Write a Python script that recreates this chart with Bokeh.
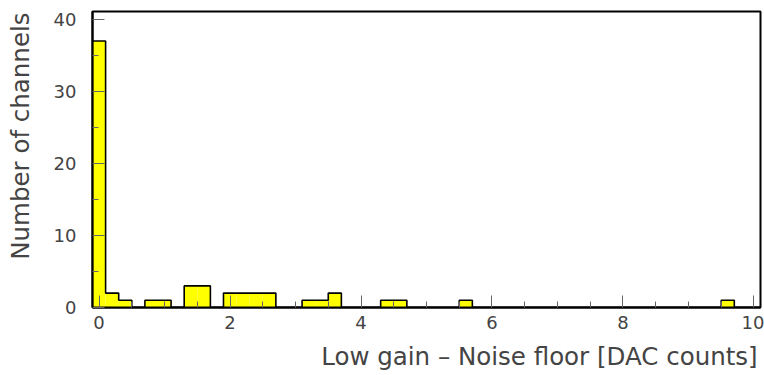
import numpy as np
from bokeh.plotting import figure
from bokeh.models import FixedTicker, Range1d
from bokeh.embed import file_html
from bokeh.resources import INLINE

# ---- data ----
bin_width = 0.2
x_start, x_end = -0.1, 10.1
filled_centers = [0.0, 0.2, 0.4, 0.8, 1.0, 1.4, 1.6, 2.0, 2.2, 2.4, 2.6,
                  3.2, 3.4, 3.6, 4.4, 4.6, 5.6, 9.6]
filled_counts = [37, 2, 1, 1, 1, 3, 3, 2, 2, 2, 2, 1, 1, 2, 1, 1, 1, 1]
x_major = [0, 2, 4, 6, 8, 10]
y_major = [0, 10, 20, 30, 40]
y_top = 41.1
x_title = "Low gain \u2013 Noise floor [DAC counts]"
y_title = "Number of channels"

# ---- full histogram from the filled bins ----
n_bins = int(round((x_end - x_start) / bin_width))
edges = x_start + bin_width * np.arange(n_bins + 1)
counts = np.zeros(n_bins)
for c, n in zip(filled_centers, filled_counts):
    counts[int(round((c - x_start - bin_width / 2) / bin_width))] = n

p = figure(width=764, height=375, output_backend="svg", toolbar_location=None,
           x_range=Range1d(x_start, x_end), y_range=Range1d(0, y_top),
           min_border_left=92, min_border_right=4, min_border_top=11,
           min_border_bottom=68, background_fill_color="white",
           border_fill_color="white")
p.grid.visible = False
p.outline_line_color = "black"
p.outline_line_width = 2

# filled bars
lefts = np.array(filled_centers) - bin_width / 2
rights = np.array(filled_centers) + bin_width / 2
p.quad(left=lefts, right=rights, bottom=0, top=filled_counts,
       fill_color="#ffff00", line_color=None)

# step outline (ROOT-like histogram contour)
xs = np.concatenate([[edges[0]], edges])
ys = np.concatenate([[0], counts, [0]])
p.step(xs, ys, mode="after", line_color="black", line_width=1.6)

font = "DejaVu Sans"
minor_x = [v for v in np.arange(0, 10.01, 0.5) if v not in x_major]
p.xaxis.ticker = FixedTicker(ticks=x_major, minor_ticks=minor_x)
p.yaxis.ticker = FixedTicker(ticks=y_major, minor_ticks=[5, 15, 25, 35])
for ax in (p.xaxis, p.yaxis):
    ax.axis_line_color = "black"
    ax.axis_line_width = 2
    ax.major_tick_in = 12
    ax.major_tick_out = 0
    ax.minor_tick_in = 6
    ax.minor_tick_out = 0
    ax.major_tick_line_color = "#666666"
    ax.minor_tick_line_color = "#666666"
    ax.major_label_text_font = font
    ax.major_label_text_font_size = "18px"
    ax.major_label_text_color = "#444444"
    ax.axis_label_text_font = font
    ax.axis_label_text_font_size = "24.5px"
    ax.axis_label_text_font_style = "normal"
    ax.axis_label_text_color = "#444444"
p.xaxis.major_label_standoff = 8
p.yaxis.major_label_standoff = 16

# axis titles: ROOT puts them at the far end of each axis; Bokeh centres
# axis labels, so leading non-breaking spaces push the visible text to the end
nbsp = "\u00a0"
p.xaxis.axis_label = nbsp * 29 + x_title
p.yaxis.axis_label = nbsp * 6 + y_title
p.xaxis.axis_label_standoff = 10
p.yaxis.axis_label_standoff = 16

open("out.html", "w").write(file_html(p, INLINE))
